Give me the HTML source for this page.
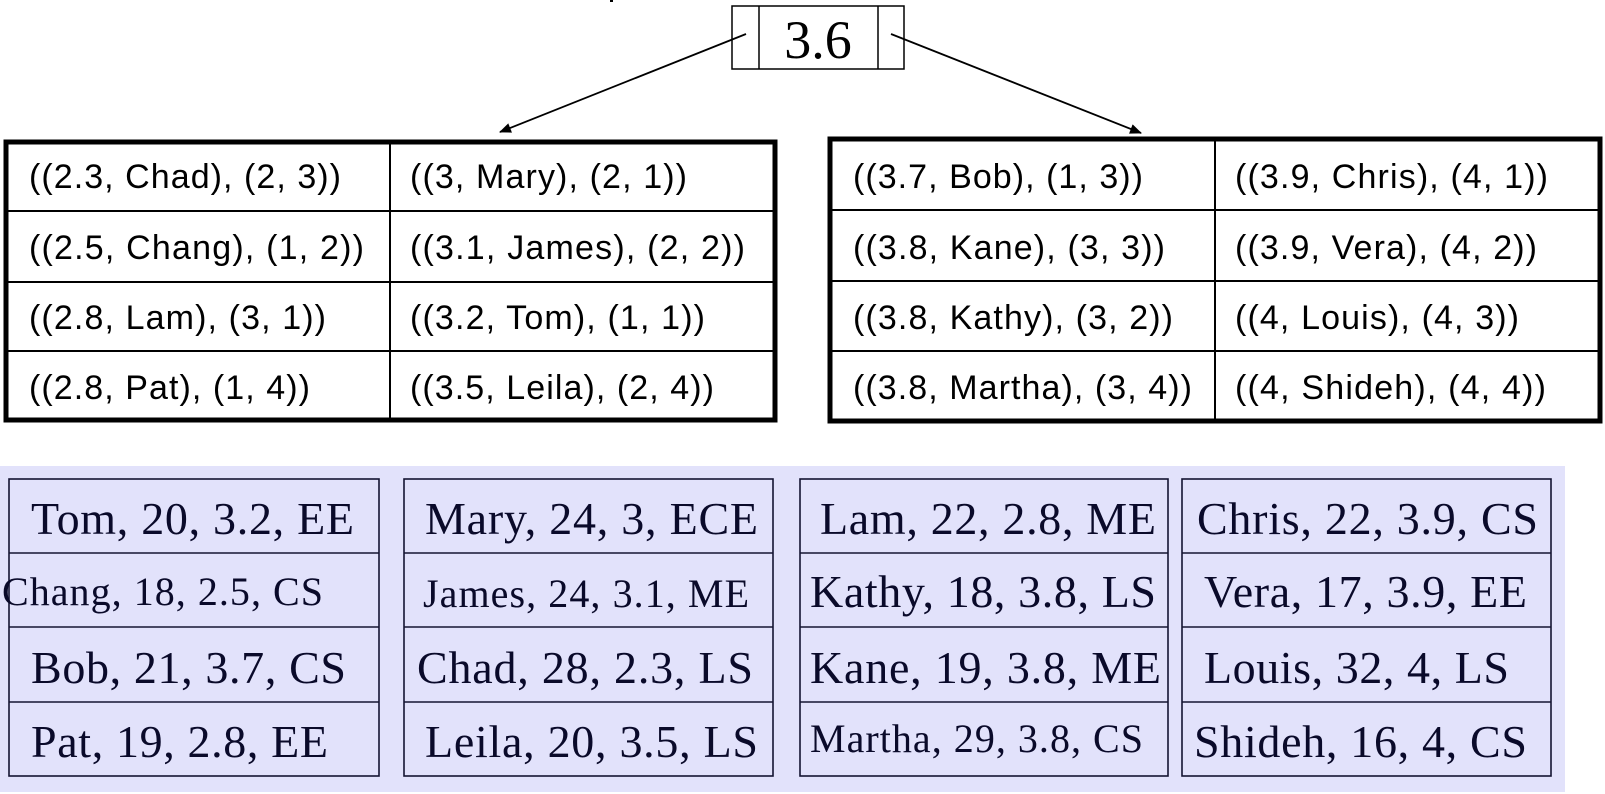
<!DOCTYPE html>
<html><head><meta charset="utf-8"><style>
html,body{margin:0;padding:0;background:#fff;}
svg{display:block;}
.h{font-family:"Liberation Sans",sans-serif;font-size:34px;fill:#000;}
.t{font-family:"Liberation Serif",serif;font-size:46px;fill:#0a0a2a;}
.ts{font-family:"Liberation Serif",serif;font-size:40px;fill:#0a0a2a;}
</style></head><body>
<svg width="1605" height="794" viewBox="0 0 1605 794" xmlns="http://www.w3.org/2000/svg">
<defs><marker id="ah" markerWidth="12" markerHeight="10" refX="11" refY="5" orient="auto" markerUnits="userSpaceOnUse"><path d="M0,0 L12,5 L0,10 z" fill="#000"/></marker></defs>
<line x1="610" y1="1" x2="613" y2="1" stroke="#000" stroke-width="2"/>
<rect x="732" y="6" width="172" height="63" fill="#fff" stroke="#000" stroke-width="1.5"/>
<line x1="759" y1="6" x2="759" y2="69" stroke="#000" stroke-width="1.5"/>
<line x1="878" y1="6" x2="878" y2="69" stroke="#000" stroke-width="1.5"/>
<text x="818" y="58" text-anchor="middle" font-family="Liberation Serif,serif" font-size="54">3.6</text>
<line x1="746" y1="34" x2="500" y2="132" stroke="#000" stroke-width="1.8" marker-end="url(#ah)"/>
<line x1="891" y1="34" x2="1141" y2="133" stroke="#000" stroke-width="1.8" marker-end="url(#ah)"/>
<rect x="6" y="142" width="769" height="278" fill="#fff" stroke="#000" stroke-width="5"/>
<g stroke="#000" stroke-width="2"><line x1="390" y1="142" x2="390" y2="420"/><line x1="6" y1="211" x2="775" y2="211"/><line x1="6" y1="282" x2="775" y2="282"/><line x1="6" y1="351" x2="775" y2="351"/></g>
<g class="h" lengthAdjust="spacingAndGlyphs">
<text x="29" y="188" textLength="312">((2.3, Chad), (2, 3))</text>
<text x="29" y="259" textLength="335">((2.5, Chang), (1, 2))</text>
<text x="29" y="329" textLength="297">((2.8, Lam), (3, 1))</text>
<text x="29" y="399" textLength="281">((2.8, Pat), (1, 4))</text>
<text x="410" y="188" textLength="277">((3, Mary), (2, 1))</text>
<text x="410" y="259" textLength="335">((3.1, James), (2, 2))</text>
<text x="410" y="329" textLength="295">((3.2, Tom), (1, 1))</text>
<text x="410" y="399" textLength="304">((3.5, Leila), (2, 4))</text>
<text x="853" y="188" textLength="290">((3.7, Bob), (1, 3))</text>
<text x="853" y="259" textLength="312">((3.8, Kane), (3, 3))</text>
<text x="853" y="329" textLength="320">((3.8, Kathy), (3, 2))</text>
<text x="853" y="399" textLength="339">((3.8, Martha), (3, 4))</text>
<text x="1235" y="188" textLength="313">((3.9, Chris), (4, 1))</text>
<text x="1235" y="259" textLength="302">((3.9, Vera), (4, 2))</text>
<text x="1235" y="329" textLength="284">((4, Louis), (4, 3))</text>
<text x="1235" y="399" textLength="311">((4, Shideh), (4, 4))</text>
</g>
<rect x="830" y="139" width="770" height="282" fill="none" stroke="#000" stroke-width="5"/>
<g stroke="#000" stroke-width="2"><line x1="1215" y1="139" x2="1215" y2="421"/><line x1="830" y1="210" x2="1600" y2="210"/><line x1="830" y1="281" x2="1600" y2="281"/><line x1="830" y1="351" x2="1600" y2="351"/></g>
<rect x="0" y="466" width="1565" height="326" fill="#e2e2fb"/>
<g fill="none" stroke="#141432" stroke-width="1.6">
<rect x="9" y="479" width="370" height="297"/>
<rect x="404" y="479" width="369" height="297"/>
<rect x="800" y="479" width="368" height="297"/>
<rect x="1182" y="479" width="369" height="297"/>
<line x1="9" y1="553" x2="379" y2="553"/><line x1="9" y1="627" x2="379" y2="627"/><line x1="9" y1="702" x2="379" y2="702"/>
<line x1="404" y1="553" x2="773" y2="553"/><line x1="404" y1="627" x2="773" y2="627"/><line x1="404" y1="702" x2="773" y2="702"/>
<line x1="800" y1="553" x2="1168" y2="553"/><line x1="800" y1="627" x2="1168" y2="627"/><line x1="800" y1="702" x2="1168" y2="702"/>
<line x1="1182" y1="553" x2="1551" y2="553"/><line x1="1182" y1="627" x2="1551" y2="627"/><line x1="1182" y1="702" x2="1551" y2="702"/>
</g>
<g lengthAdjust="spacingAndGlyphs">
<text class="t" x="31" y="534" textLength="323">Tom, 20, 3.2, EE</text>
<text class="ts" x="2" y="605" textLength="321">Chang, 18, 2.5, CS</text>
<text class="t" x="31" y="683" textLength="315">Bob, 21, 3.7, CS</text>
<text class="t" x="31" y="757" textLength="297">Pat, 19, 2.8, EE</text>
<text class="t" x="425" y="534" textLength="333">Mary, 24, 3, ECE</text>
<text class="ts" x="423" y="607" textLength="326">James, 24, 3.1, ME</text>
<text class="t" x="417" y="683" textLength="336">Chad, 28, 2.3, LS</text>
<text class="t" x="425" y="757" textLength="333">Leila, 20, 3.5, LS</text>
<text class="t" x="820" y="534" textLength="336">Lam, 22, 2.8, ME</text>
<text class="t" x="810" y="607" textLength="346">Kathy, 18, 3.8, LS</text>
<text class="t" x="810" y="683" textLength="351">Kane, 19, 3.8, ME</text>
<text class="ts" x="810" y="752" textLength="333">Martha, 29, 3.8, CS</text>
<text class="t" x="1197" y="534" textLength="341">Chris, 22, 3.9, CS</text>
<text class="t" x="1204" y="607" textLength="323">Vera, 17, 3.9, EE</text>
<text class="t" x="1204" y="683" textLength="305">Louis, 32, 4, LS</text>
<text class="t" x="1194" y="757" textLength="333">Shideh, 16, 4, CS</text>
</g>
</svg>
</body></html>
